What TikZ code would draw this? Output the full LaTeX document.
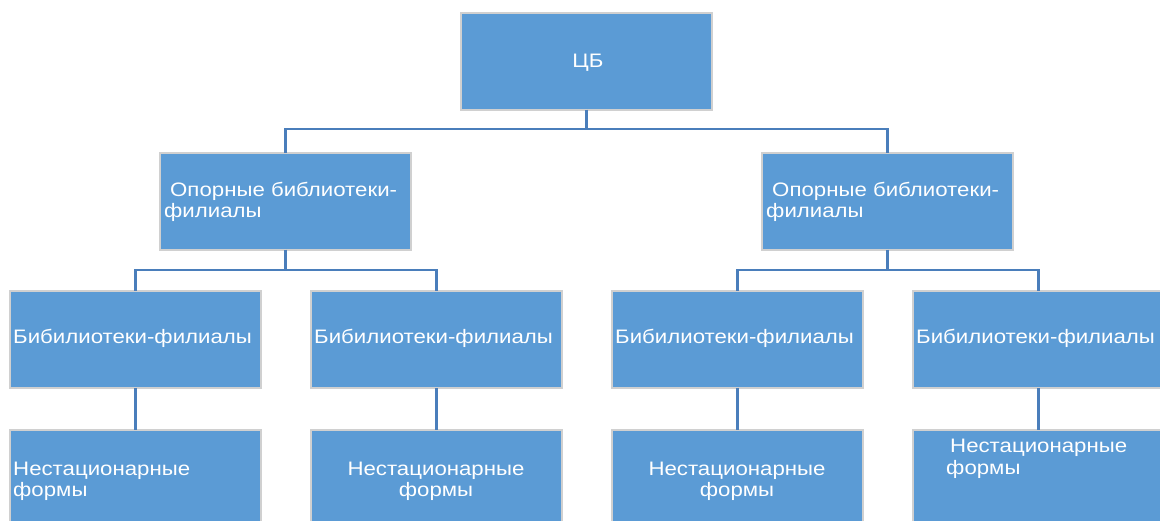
\documentclass[tikz,border=0pt]{standalone}
\usepackage{fontspec}
\setmainfont{Liberation Sans}[FakeStretch=1.14]
\definecolor{boxfill}{HTML}{5B9BD5}
\definecolor{boxline}{HTML}{D0D0D0}
\definecolor{conn}{HTML}{4A7EBB}
\begin{document}
\begin{tikzpicture}[x=1pt,y=-1pt,
  box/.style={draw=boxline, line width=1.3pt, fill=boxfill, inner sep=0pt, outer sep=0pt,
    minimum width=251pt, minimum height=97pt, anchor=north west},
  lbl/.style={text=white, inner sep=0pt, font=\fontsize{19.5}{22}\selectfont},
  lw/.style={lbl, anchor=base west},
  lc/.style={lbl, anchor=base},
  link/.style={draw=conn, line width=2.6pt}]
\useasboundingbox (0,0) rectangle (1160,521);
\clip (0,0) rectangle (1160,521);
% boxes
\node[box] (cb) at (461,13) {};
\node[box] (op1) at (160,153) {};
\node[box] (op2) at (762,153) {};
\node[box] (f1) at (10,291) {};
\node[box] (f2) at (311,291) {};
\node[box] (f3) at (612,291) {};
\node[box] (f4) at (913,291) {};
\node[box, minimum height=110pt] (n1) at (10,430) {};
\node[box, minimum height=110pt] (n2) at (311,430) {};
\node[box, minimum height=110pt] (n3) at (612,430) {};
\node[box, minimum height=110pt] (n4) at (913,430) {};
% connectors
\draw[link] (cb.south) -- ++(0,19) -| (op1.north);
\draw[link] (cb.south) -- ++(0,19) -| (op2.north);
\draw[link] (op1.south) -- ++(0,20) -| (f1.north);
\draw[link] (op1.south) -- ++(0,20) -| (f2.north);
\draw[link] (op2.south) -- ++(0,20) -| (f3.north);
\draw[link] (op2.south) -- ++(0,20) -| (f4.north);
\draw[link] (f1.south) -- (n1.north);
\draw[link] (f2.south) -- (n2.north);
\draw[link] (f3.south) -- (n3.north);
\draw[link] (f4.south) -- (n4.north);
% labels
\node[lc] (tcb) at (588,68) {ЦБ};
\node[lw] (top1a) at (170,197) {Опорные библиотеки-};
\node[lw] (top1b) at (164,218) {филиалы};
\node[lw] (top2a) at (772,197) {Опорные библиотеки-};
\node[lw] (top2b) at (766,218) {филиалы};
\node[lw] (tf1) at (13,344) {Бибилиотеки-филиалы};
\node[lw] (tf2) at (314,344) {Бибилиотеки-филиалы};
\node[lw] (tf3) at (615,344) {Бибилиотеки-филиалы};
\node[lw] (tf4) at (916,344) {Бибилиотеки-филиалы};
\node[lw] (tn1a) at (13,475) {Нестационарные};
\node[lw] (tn1b) at (13,496) {формы};
\node[lc] (tn2a) at (436,475) {Нестационарные};
\node[lc] (tn2b) at (436,496) {формы};
\node[lc] (tn3a) at (737,475) {Нестационарные};
\node[lc] (tn3b) at (737,496) {формы};
\node[lw] (tn4a) at (950,452) {Нестационарные};
\node[lw] (tn4b) at (946,474) {формы};
\end{tikzpicture}
\end{document}
